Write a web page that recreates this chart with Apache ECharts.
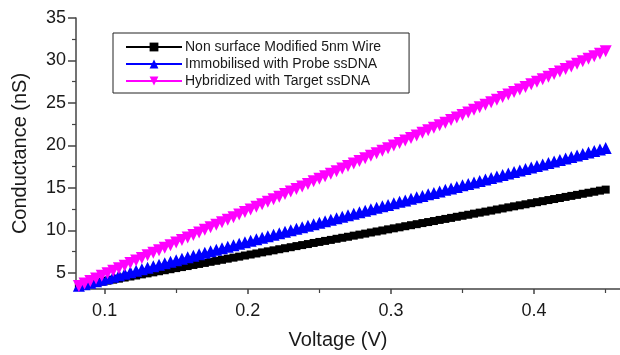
<!DOCTYPE html>
<html>
<head>
<meta charset="utf-8">
<script src="https://cdn.jsdelivr.net/npm/echarts@6/dist/echarts.min.js"></script>
<style>
  html, body { margin: 0; padding: 0; background: #fff; }
  #chart { width: 620px; height: 355px; }
</style>
</head>
<body>
<div id="chart"></div>
<script>
const voltage = [
  0.082, 0.086, 0.090, 0.094, 0.098, 0.102, 0.106, 0.110, 0.114, 0.118,
  0.122, 0.126, 0.130, 0.134, 0.138, 0.142, 0.146, 0.150, 0.154, 0.158,
  0.162, 0.166, 0.170, 0.174, 0.178, 0.182, 0.186, 0.190, 0.194, 0.198,
  0.202, 0.206, 0.210, 0.214, 0.218, 0.222, 0.226, 0.230, 0.234, 0.238,
  0.242, 0.246, 0.250, 0.254, 0.258, 0.262, 0.266, 0.270, 0.274, 0.278,
  0.282, 0.286, 0.290, 0.294, 0.298, 0.302, 0.306, 0.310, 0.314, 0.318,
  0.322, 0.326, 0.330, 0.334, 0.338, 0.342, 0.346, 0.350, 0.354, 0.358,
  0.362, 0.366, 0.370, 0.374, 0.378, 0.382, 0.386, 0.390, 0.394, 0.398,
  0.402, 0.406, 0.410, 0.414, 0.418, 0.422, 0.426, 0.430, 0.434, 0.438,
  0.442, 0.446, 0.450
];

// Non surface modified 5nm wire
const bareWire = [
  3.46, 3.59, 3.71, 3.83, 3.96, 4.08, 4.20, 4.32, 4.45, 4.57,
  4.69, 4.82, 4.94, 5.06, 5.19, 5.31, 5.43, 5.56, 5.68, 5.80,
  5.93, 6.05, 6.17, 6.30, 6.42, 6.54, 6.67, 6.79, 6.91, 7.04,
  7.16, 7.28, 7.41, 7.53, 7.65, 7.78, 7.90, 8.02, 8.15, 8.27,
  8.39, 8.52, 8.64, 8.76, 8.88, 9.01, 9.13, 9.25, 9.38, 9.50,
  9.62, 9.75, 9.87, 9.99, 10.12, 10.24, 10.36, 10.49, 10.61, 10.73,
  10.86, 10.98, 11.10, 11.23, 11.35, 11.47, 11.60, 11.72, 11.84, 11.97,
  12.09, 12.21, 12.33, 12.46, 12.58, 12.71, 12.83, 12.95, 13.07, 13.20,
  13.32, 13.44, 13.57, 13.69, 13.81, 13.94, 14.06, 14.18, 14.31, 14.43,
  14.55, 14.68, 14.80
];

// immobilised with probe ssDNA
const probe = [
  3.49, 3.66, 3.84, 4.02, 4.19, 4.37, 4.55, 4.72, 4.90, 5.07,
  5.25, 5.43, 5.60, 5.78, 5.96, 6.13, 6.31, 6.48, 6.66, 6.84,
  7.01, 7.19, 7.36, 7.54, 7.72, 7.89, 8.07, 8.25, 8.42, 8.60,
  8.77, 8.95, 9.13, 9.30, 9.48, 9.66, 9.83, 10.01, 10.18, 10.36,
  10.54, 10.71, 10.89, 11.07, 11.24, 11.42, 11.59, 11.77, 11.95, 12.12,
  12.30, 12.48, 12.65, 12.83, 13.00, 13.18, 13.36, 13.53, 13.71, 13.89,
  14.06, 14.24, 14.41, 14.59, 14.77, 14.94, 15.12, 15.30, 15.47, 15.65,
  15.82, 16.00, 16.18, 16.35, 16.53, 16.70, 16.88, 17.06, 17.23, 17.41,
  17.59, 17.76, 17.94, 18.11, 18.29, 18.47, 18.64, 18.82, 18.99, 19.17,
  19.35, 19.52, 19.70
];

// hybridized with target ssDNA
const target = [
  3.45, 3.75, 4.05, 4.35, 4.65, 4.95, 5.25, 5.55, 5.85, 6.15,
  6.46, 6.76, 7.06, 7.36, 7.66, 7.96, 8.26, 8.56, 8.86, 9.16,
  9.46, 9.76, 10.06, 10.36, 10.66, 10.96, 11.26, 11.56, 11.87, 12.17,
  12.47, 12.77, 13.07, 13.37, 13.67, 13.97, 14.27, 14.57, 14.87, 15.17,
  15.47, 15.77, 16.07, 16.37, 16.67, 16.97, 17.27, 17.58, 17.88, 18.18,
  18.48, 18.78, 19.08, 19.38, 19.68, 19.98, 20.28, 20.58, 20.88, 21.18,
  21.48, 21.78, 22.08, 22.38, 22.68, 22.99, 23.29, 23.59, 23.89, 24.19,
  24.49, 24.79, 25.09, 25.39, 25.69, 25.99, 26.29, 26.59, 26.89, 27.19,
  27.49, 27.79, 28.09, 28.40, 28.70, 29.00, 29.30, 29.60, 29.90, 30.20,
  30.50, 30.80, 31.10
];

const xMajorTicks = [0.1, 0.2, 0.3, 0.4];
const xMinorTicks = [0.15, 0.25, 0.35, 0.45];
const yMajorTicks = [5, 10, 15, 20, 25, 30, 35];
const yMinorTicks = [7.5, 12.5, 17.5, 22.5, 27.5, 32.5];

const FONT = "Liberation Sans, Arial, sans-serif";
const AXIS_COLOR = "#444";
const TEXT_COLOR = "#1a1a1a";

const pairs = (ys) => voltage.map((v, i) => [v, ys[i]]);

const chart = echarts.init(document.getElementById("chart"));

const baseX = {
  type: "value",
  min: 0.08,
  max: 0.46,
  position: "bottom",
  splitLine: { show: false },
};
const baseY = {
  type: "value",
  min: 3.1,
  max: 35,
  position: "left",
  splitLine: { show: false },
};

chart.setOption({
  animation: false,
  grid: { left: 76, top: 18, right: 0, bottom: 66, containLabel: false, outerBoundsMode: "none" },
  legend: {
    orient: "vertical",
    left: 113,
    top: 33,
    padding: [7, 28, 5, 12],
    itemWidth: 56,
    itemHeight: 11,
    itemGap: 3,
    borderColor: "#222",
    borderWidth: 1,
    borderRadius: 0,
    textStyle: { fontFamily: FONT, fontSize: 14, color: TEXT_COLOR, padding: [0, 0, 0, -2] },
    data: [
      "Non surface Modified 5nm Wire",
      "Immobilised with Probe ssDNA",
      "Hybridized with Target ssDNA",
    ],
  },
  xAxis: [
    Object.assign({}, baseX, {
      name: "Voltage (V)",
      nameLocation: "middle",
      nameGap: 41,
      nameTextStyle: { fontFamily: FONT, fontSize: 20, color: TEXT_COLOR, padding: [0, 20, 0, 0] },
      axisLine: { show: true, lineStyle: { color: AXIS_COLOR, width: 1.5 } },
      axisTick: { show: true, length: 5, customValues: xMajorTicks, lineStyle: { color: AXIS_COLOR, width: 1.5 } },
      axisLabel: {
        show: true,
        customValues: xMajorTicks,
        margin: 13,
        fontFamily: FONT,
        fontSize: 18,
        color: TEXT_COLOR,
      },
    }),
    Object.assign({}, baseX, {
      axisLine: { show: false },
      axisTick: { show: true, length: 4, customValues: xMinorTicks, lineStyle: { color: AXIS_COLOR, width: 1.2 } },
      axisLabel: { show: false },
    }),
  ],
  yAxis: [
    Object.assign({}, baseY, {
      name: "Conductance (nS)",
      nameLocation: "middle",
      nameGap: 46,
      nameTextStyle: { fontFamily: FONT, fontSize: 20, color: TEXT_COLOR },
      axisLine: { show: true, lineStyle: { color: AXIS_COLOR, width: 1.5 } },
      axisTick: { show: true, length: 8, customValues: yMajorTicks, lineStyle: { color: AXIS_COLOR, width: 1.5 } },
      axisLabel: {
        show: true,
        customValues: yMajorTicks,
        margin: 10,
        fontFamily: FONT,
        fontSize: 18,
        color: TEXT_COLOR,
      },
    }),
    Object.assign({}, baseY, {
      axisLine: { show: false },
      axisTick: { show: true, length: 4, customValues: yMinorTicks, lineStyle: { color: AXIS_COLOR, width: 1.2 } },
      axisLabel: { show: false },
    }),
  ],
  series: [
    {
      name: "Non surface Modified 5nm Wire",
      type: "line",
      data: pairs(bareWire),
      symbol: "rect",
      symbolSize: 8,
      color: "#000000",
      lineStyle: { width: 1 },
      z: 3,
    },
    {
      name: "Immobilised with Probe ssDNA",
      type: "line",
      data: pairs(probe),
      symbol: "triangle",
      symbolSize: 12,
      color: "#0000ff",
      lineStyle: { width: 1 },
      z: 4,
    },
    {
      name: "Hybridized with Target ssDNA",
      type: "line",
      data: pairs(target),
      symbol: "triangle",
      symbolRotate: 180,
      symbolSize: 12,
      color: "#ff00ff",
      lineStyle: { width: 1 },
      z: 5,
    },
  ],
});
</script>
</body>
</html>
